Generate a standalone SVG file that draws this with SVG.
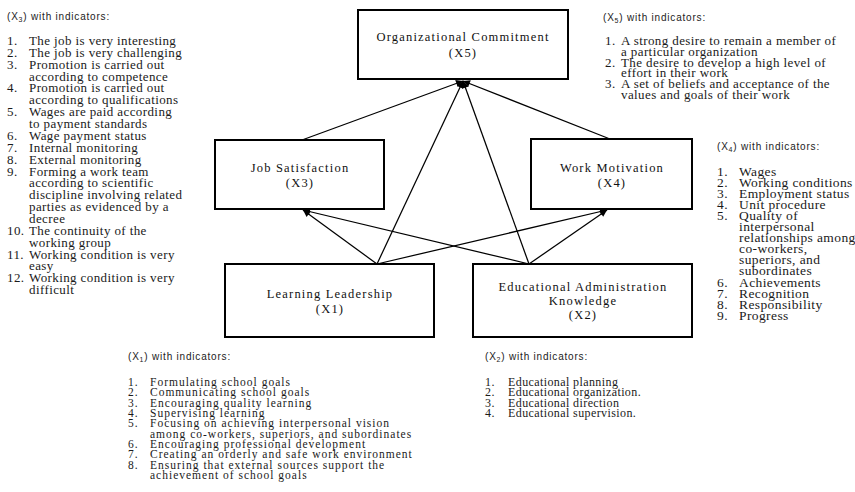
<svg xmlns="http://www.w3.org/2000/svg" width="855" height="492" viewBox="0 0 855 492">
  <style>
    .box { fill: #ffffff; stroke: #000000; stroke-width: 2; }
    .node-label { font-family: "Liberation Serif", "Times New Roman", serif; font-size: 12.5px; letter-spacing: 1.2px; fill: #111111; text-anchor: middle; }
    .edge { fill: none; stroke: #000000; stroke-width: 1.25; }
    .hdr { font-family: "Liberation Sans", Arial, sans-serif; font-size: 10px; letter-spacing: 0.8px; fill: #222222; }
    .sub { font-size: 7px; }
    .list { font-family: "Liberation Serif", "Times New Roman", serif; font-size: 13px; letter-spacing: 0.4px; fill: #1a1a1a; }
    .list-r { font-family: "Liberation Serif", "Times New Roman", serif; font-size: 13.5px; letter-spacing: 0.4px; fill: #1a1a1a; }
    .list-sm { font-family: "Liberation Serif", "Times New Roman", serif; font-size: 11.5px; letter-spacing: 1px; fill: #1a1a1a; }
    .list-md { font-family: "Liberation Serif", "Times New Roman", serif; font-size: 12px; letter-spacing: 0.4px; fill: #1a1a1a; }
  </style>
  <defs>
    <marker id="arrow" viewBox="0 0 10 10" refX="10" refY="5" markerWidth="8" markerHeight="7" orient="auto" markerUnits="userSpaceOnUse">
      <path d="M0,0 L10,5 L0,10 z" fill="#000000"/>
    </marker>
  </defs>
  <rect width="855" height="492" fill="#ffffff"/>

  <!-- connectors -->
  <g id="connectors">
    <line class="edge" x1="377" y1="264" x2="303" y2="210" marker-end="url(#arrow)"/>
    <line class="edge" x1="377" y1="264" x2="607" y2="210" marker-end="url(#arrow)"/>
    <line class="edge" x1="377" y1="264" x2="463" y2="81" marker-end="url(#arrow)"/>
    <line class="edge" x1="529" y1="264" x2="303" y2="210" marker-end="url(#arrow)"/>
    <line class="edge" x1="529" y1="264" x2="607" y2="210" marker-end="url(#arrow)"/>
    <line class="edge" x1="529" y1="264" x2="463" y2="81" marker-end="url(#arrow)"/>
    <line class="edge" x1="302" y1="140" x2="463" y2="81" marker-end="url(#arrow)"/>
    <line class="edge" x1="610" y1="139" x2="463" y2="81" marker-end="url(#arrow)"/>
  </g>

  <!-- nodes -->
  <g id="node-x5">
    <rect class="box" x="358" y="10" width="210" height="69"/>
    <text class="node-label" x="463" y="41">Organizational Commitment</text>
    <text class="node-label" x="463" y="57">(X5)</text>
  </g>
  <g id="node-x3">
    <rect class="box" x="215" y="140" width="169" height="69"/>
    <text class="node-label" x="300" y="172">Job Satisfaction</text>
    <text class="node-label" x="300" y="187">(X3)</text>
  </g>
  <g id="node-x4">
    <rect class="box" x="531" y="139" width="161" height="70"/>
    <text class="node-label" x="612" y="172">Work Motivation</text>
    <text class="node-label" x="612" y="187">(X4)</text>
  </g>
  <g id="node-x1">
    <rect class="box" x="225" y="264" width="209" height="73"/>
    <text class="node-label" x="330" y="298">Learning Leadership</text>
    <text class="node-label" x="330" y="313">(X1)</text>
  </g>
  <g id="node-x2">
    <rect class="box" x="473" y="264" width="219" height="73"/>
    <text class="node-label" x="583" y="291">Educational Administration</text>
    <text class="node-label" x="583" y="305">Knowledge</text>
    <text class="node-label" x="583" y="319">(X2)</text>
  </g>

  <!-- indicator lists -->
  <g id="indicators-x3">
    <text class="hdr" x="7" y="20">(X<tspan class="sub" dy="2">3</tspan><tspan dy="-2">) with indicators:</tspan></text>
    <g class="list">
      <text x="7" y="45">1.</text><text x="29" y="45">The job is very interesting</text>
      <text x="7" y="57">2.</text><text x="29" y="57">The job is very challenging</text>
      <text x="7" y="69">3.</text><text x="29" y="69">Promotion is carried out</text>
      <text x="29" y="81">according to competence</text>
      <text x="7" y="92">4.</text><text x="29" y="92">Promotion is carried out</text>
      <text x="29" y="104">according to qualifications</text>
      <text x="7" y="116">5.</text><text x="29" y="116">Wages are paid according</text>
      <text x="29" y="128">to payment standards</text>
      <text x="7" y="140">6.</text><text x="29" y="140">Wage payment status</text>
      <text x="7" y="152">7.</text><text x="29" y="152">Internal monitoring</text>
      <text x="7" y="164">8.</text><text x="29" y="164">External monitoring</text>
      <text x="7" y="176">9.</text><text x="29" y="176">Forming a work team</text>
      <text x="29" y="187">according to scientific</text>
      <text x="29" y="199">discipline involving related</text>
      <text x="29" y="211">parties as evidenced by a</text>
      <text x="29" y="223">decree</text>
      <text x="7" y="235">10.</text><text x="29" y="235">The continuity of the</text>
      <text x="29" y="247">working group</text>
      <text x="7" y="259">11.</text><text x="29" y="259">Working condition is very</text>
      <text x="29" y="270">easy</text>
      <text x="7" y="282">12.</text><text x="29" y="282">Working condition is very</text>
      <text x="29" y="294">difficult</text>
    </g>
  </g>

  <g id="indicators-x5">
    <text class="hdr" x="603" y="21">(X<tspan class="sub" dy="2">5</tspan><tspan dy="-2">) with indicators:</tspan></text>
    <g class="list">
      <text x="605" y="45">1.</text><text x="621" y="45">A strong desire to remain a member of</text>
      <text x="621" y="55.8">a particular organization</text>
      <text x="605" y="66.6">2.</text><text x="621" y="66.6">The desire to develop a high level of</text>
      <text x="621" y="77.4">effort in their work</text>
      <text x="605" y="88.2">3.</text><text x="621" y="88.2">A set of beliefs and acceptance of the</text>
      <text x="621" y="99">values and goals of their work</text>
    </g>
  </g>

  <g id="indicators-x4">
    <text class="hdr" x="717" y="150">(X<tspan class="sub" dy="2">4</tspan><tspan dy="-2">) with indicators:</tspan></text>
    <g class="list-r">
      <text x="717" y="176">1.</text><text x="739" y="176">Wages</text>
      <text x="717" y="187">2.</text><text x="739" y="187">Working conditions</text>
      <text x="717" y="198">3.</text><text x="739" y="198">Employment status</text>
      <text x="717" y="209">4.</text><text x="739" y="209">Unit procedure</text>
      <text x="717" y="220">5.</text><text x="739" y="220">Quality of</text>
      <text x="739" y="231">interpersonal</text>
      <text x="739" y="242">relationships among</text>
      <text x="739" y="253">co-workers,</text>
      <text x="739" y="264">superiors, and</text>
      <text x="739" y="275">subordinates</text>
      <text x="717" y="287">6.</text><text x="739" y="287">Achievements</text>
      <text x="717" y="298">7.</text><text x="739" y="298">Recognition</text>
      <text x="717" y="309">8.</text><text x="739" y="309">Responsibility</text>
      <text x="717" y="320">9.</text><text x="739" y="320">Progress</text>
    </g>
  </g>

  <g id="indicators-x1">
    <text class="hdr" x="128" y="360">(X<tspan class="sub" dy="2">1</tspan><tspan dy="-2">) with indicators:</tspan></text>
    <g class="list-sm">
      <text x="128" y="386">1.</text><text x="150" y="386">Formulating school goals</text>
      <text x="128" y="396">2.</text><text x="150" y="396">Communicating school goals</text>
      <text x="128" y="406.5">3.</text><text x="150" y="406.5">Encouraging quality learning</text>
      <text x="128" y="417">4.</text><text x="150" y="417">Supervising learning</text>
      <text x="128" y="427">5.</text><text x="150" y="427">Focusing on achieving interpersonal vision</text>
      <text x="150" y="437.5">among co-workers, superiors, and subordinates</text>
      <text x="128" y="448">6.</text><text x="150" y="448">Encouraging professional development</text>
      <text x="128" y="458">7.</text><text x="150" y="458">Creating an orderly and safe work environment</text>
      <text x="128" y="468.5">8.</text><text x="150" y="468.5">Ensuring that external sources support the</text>
      <text x="150" y="479">achievement of school goals</text>
    </g>
  </g>

  <g id="indicators-x2">
    <text class="hdr" x="485" y="360">(X<tspan class="sub" dy="2">2</tspan><tspan dy="-2">) with indicators:</tspan></text>
    <g class="list-md">
      <text x="485" y="386">1.</text><text x="508" y="386">Educational planning</text>
      <text x="485" y="396">2.</text><text x="508" y="396">Educational organization.</text>
      <text x="485" y="406.5">3.</text><text x="508" y="406.5">Educational direction</text>
      <text x="485" y="417">4.</text><text x="508" y="417">Educational supervision.</text>
    </g>
  </g>
</svg>
